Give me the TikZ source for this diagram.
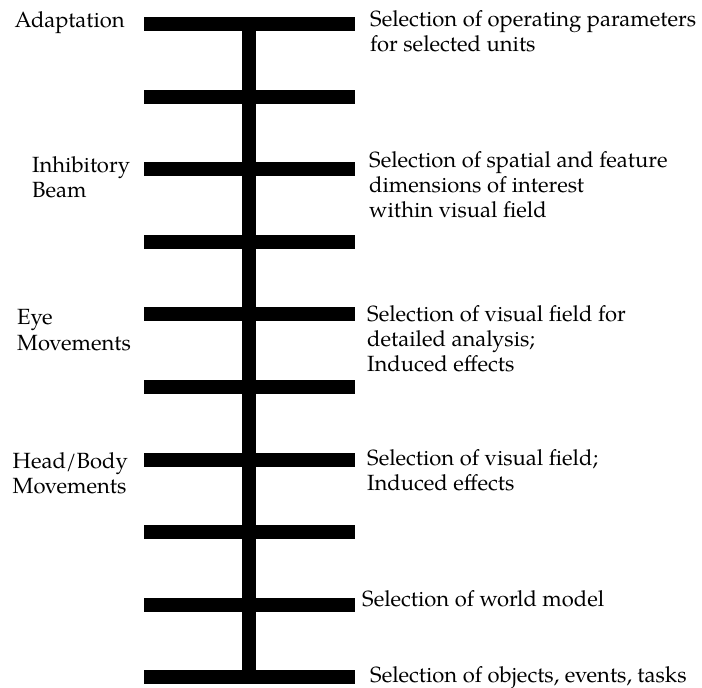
\documentclass[tikz,border=0pt]{standalone}
\usepackage{fontspec}
\setmainfont{TeX Gyre Pagella}
\usepackage{tikz}

\begin{document}
\begin{tikzpicture}[x=1pt,y=-1pt,
                bar/.style={line width=14pt},
                lab/.style={anchor=base west,inner sep=0pt,align=left,
                    font=\fontsize{22}{25.2}\selectfont}]
                \useasboundingbox (0,0) rectangle (702,688);

                \coordinate (l1) at (144,24);
                \coordinate (r1) at (355,24);
                \coordinate (l2) at (144,96.6);
                \coordinate (r2) at (355,96.6);
                \coordinate (l3) at (144,169.2);
                \coordinate (r3) at (355,169.2);
                \coordinate (l4) at (144,241.8);
                \coordinate (r4) at (355,241.8);
                \coordinate (l5) at (144,314.4);
                \coordinate (r5) at (355,314.4);
                \coordinate (l6) at (144,387);
                \coordinate (r6) at (355,387);
                \coordinate (l7) at (144,459.6);
                \coordinate (r7) at (355,459.6);
                \coordinate (l8) at (144,532.2);
                \coordinate (r8) at (355,532.2);
                \coordinate (l9) at (144,604.8);
                \coordinate (r9) at (355,604.8);
                \coordinate (l10) at (144,677.4);
                \coordinate (r10) at (355,677.4);
                \coordinate (top) at (249,24);
                \coordinate (bottom) at (249,677.4);

                \draw[bar] (top) -- (bottom);
                \draw[bar] (l1) -- (r1);
                \draw[bar] (l2) -- (r2);
                \draw[bar] (l3) -- (r3);
                \draw[bar] (l4) -- (r4);
                \draw[bar] (l5) -- (r5);
                \draw[bar] (l6) -- (r6);
                \draw[bar] (l7) -- (r7);
                \draw[bar] (l8) -- (r8);
                \draw[bar] (l9) -- (r9);
                \draw[bar] (l10) -- (r10);

                \node[lab] (adapt) at (14.5,27.3) {Adaptation};
                \node[lab] (inhib) at (32,197.5) {Inhibitory\\Beam};
                \node[lab] (eye) at (17,350) {Eye\\Movements};
                \node[lab] (head) at (12.5,493.5) {Head/Body\\Movements};

                \node[lab] (selparam) at (370,51.7) {Selection of operating parameters\\for selected units};
                \node[lab] (selspat) at (369,217.5) {Selection of spatial and feature\\dimensions of interest\\within visual field};
                \node[lab] (seldet) at (367,371.5) {Selection of visual field for\\detailed analysis;\\Induced effects};
                \node[lab] (selfield) at (367,490.5) {Selection of visual field;\\Induced effects};
                \node[lab] (selworld) at (362,606.7) {Selection of world model};
                \node[lab] (selobj) at (370,682) {Selection of objects, events, tasks};
            \end{tikzpicture}
\end{document}
